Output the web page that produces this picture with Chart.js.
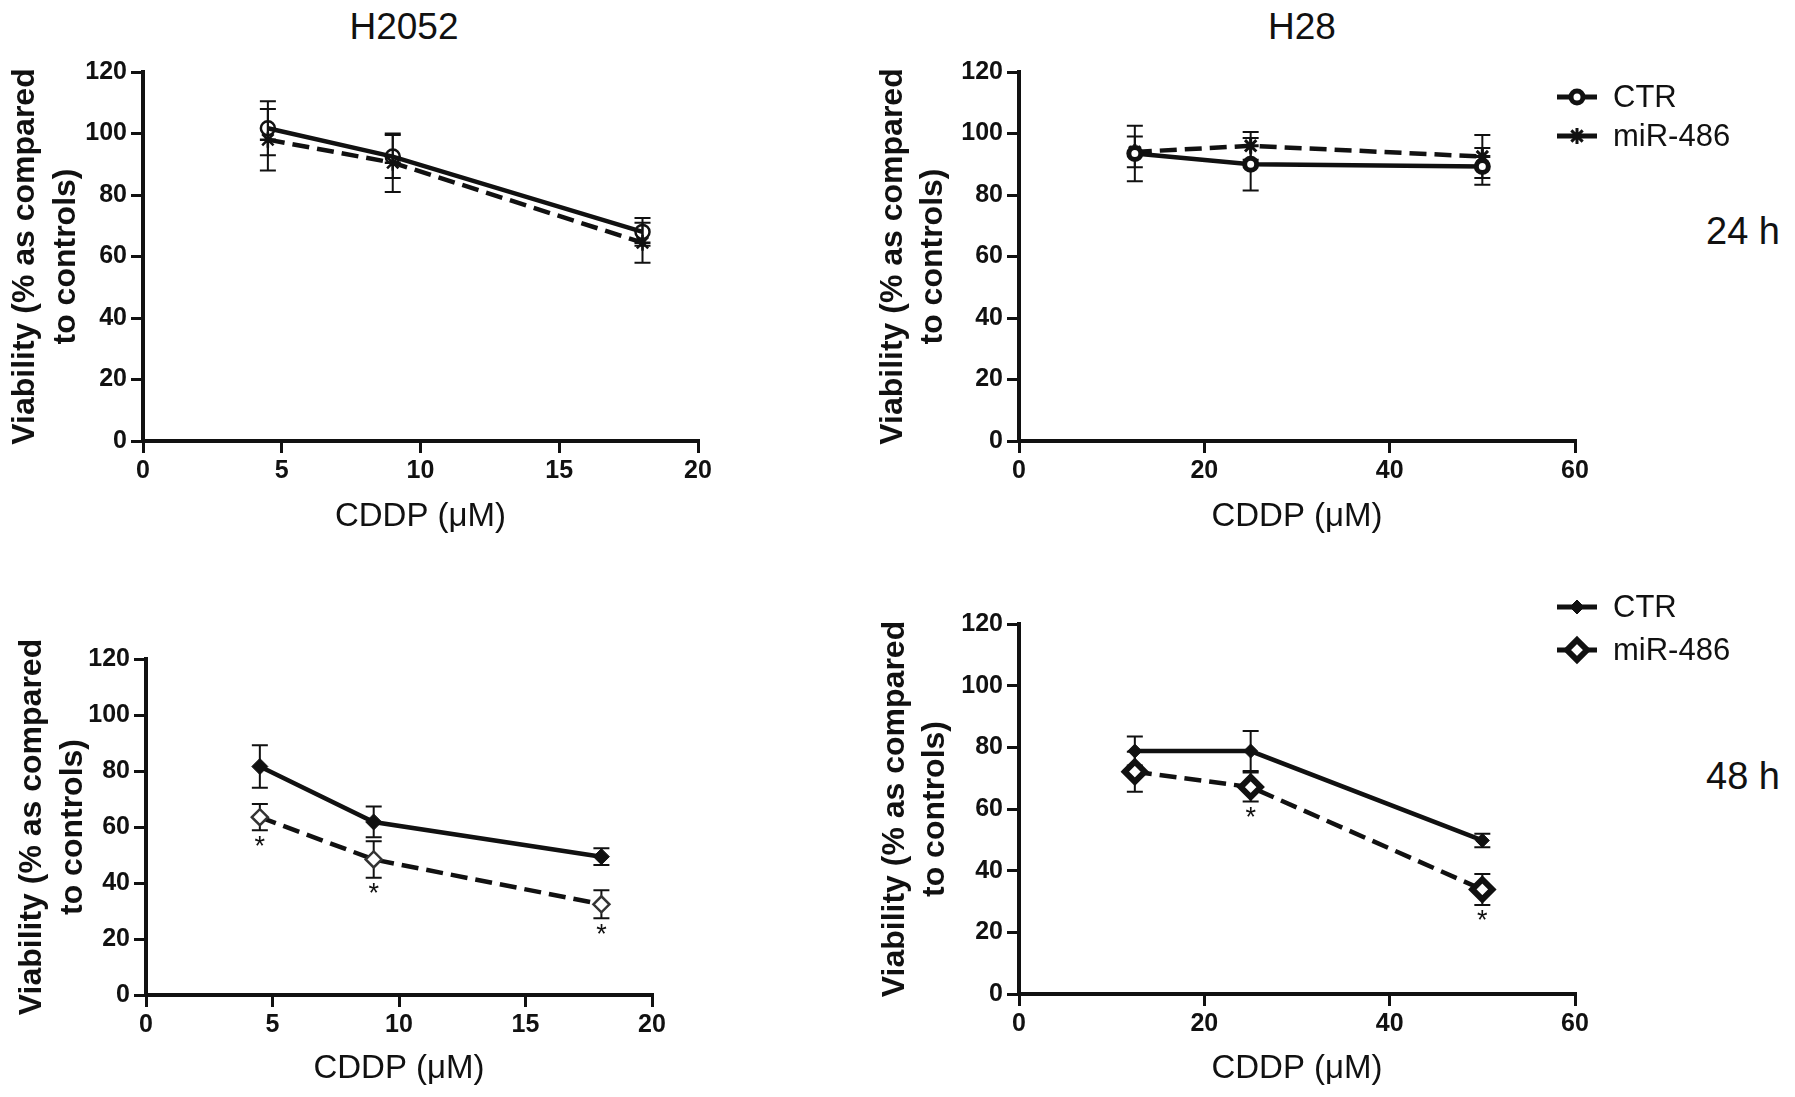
<!DOCTYPE html>
<html>
<head>
<meta charset="utf-8">
<script src="https://cdn.jsdelivr.net/npm/chart.js@4.4.0/dist/chart.umd.min.js"></script>
<style>
  body { margin: 0; background: #fff; width: 1795px; height: 1097px; position: relative; overflow: hidden;
         font-family: "Liberation Sans", Arial, sans-serif; color: #111; }
  canvas { position: absolute; }
  .title { position: absolute; white-space: nowrap; transform: translate(-50%, -50%); font-size: 37px; }
  .time { position: absolute; white-space: nowrap; transform: translateY(-50%); font-size: 38px; }
</style>
</head>
<body>
<div class="title" style="left:404px; top:27px;">H2052</div>
<div class="title" style="left:1302px; top:27px;">H28</div>
<div class="time" style="left:1706px; top:231px;">24 h</div>
<div class="time" style="left:1706px; top:776px;">48 h</div>

<canvas id="h2052_24"></canvas>
<canvas id="h28_24"></canvas>
<canvas id="h2052_48"></canvas>
<canvas id="h28_48"></canvas>

<script>
// axis ticks
const yTicks = [0, 20, 40, 60, 80, 100, 120];
const h2052Ticks = [0, 5, 10, 15, 20];
const h28Ticks = [0, 20, 40, 60];

// CDDP doses (uM)
const h2052Dose = [4.5, 9, 18];
const h28Dose = [12.5, 25, 50];

const seriesLabels = ["CTR", "miR-486"];

// 24 h, viability % (mean and error)
const h2052Ctr24 = [101.7, 92.5, 68.0];
const h2052Ctr24Err = [8.8, 7.0, 4.5];
const h2052Mir24 = [98.0, 90.5, 64.5];
const h2052Mir24Err = [10.0, 9.5, 6.5];

const h28Ctr24 = [93.5, 90.0, 89.3];
const h28Ctr24Err = [9.0, 8.5, 6.0];
const h28Mir24 = [94.0, 96.0, 92.5];
const h28Mir24Err = [5.0, 4.5, 7.0];

// 48 h
const h2052Ctr48 = [81.6, 61.8, 49.4];
const h2052Ctr48Err = [7.6, 5.5, 3.0];
const h2052Mir48 = [63.5, 48.4, 32.4];
const h2052Mir48Err = [4.7, 6.5, 5.0];
const h2052Sig48 = [true, true, true];

const h28Ctr48 = [78.8, 78.8, 49.8];
const h28Ctr48Err = [4.7, 6.5, 2.2];
const h28Mir48 = [72.1, 67.1, 33.9];
const h28Mir48Err = [6.5, 4.7, 5.0];
const h28Sig48 = [false, true, true];

const FONT = '"Liberation Sans", Arial, sans-serif';
Chart.defaults.font.family = FONT;
Chart.defaults.color = "#111";

const X_TITLE_SIZE = 33;
const Y_TITLE_SIZE = 32;

function drawMarker(ctx, ds, cx, cy) {
  const r = ds.pointRadius;
  ctx.save();
  ctx.setLineDash([]);
  ctx.lineWidth = ds.pointBorderWidth;
  ctx.strokeStyle = ds.pointBorderColor;
  ctx.fillStyle = ds.pointBackgroundColor;
  ctx.beginPath();
  if (ds.pointStyle === "circle") {
    ctx.arc(cx, cy, r, 0, Math.PI * 2);
    ctx.fill();
    ctx.stroke();
  } else if (ds.pointStyle === "rectRot") {
    ctx.moveTo(cx, cy - r);
    ctx.lineTo(cx + r, cy);
    ctx.lineTo(cx, cy + r);
    ctx.lineTo(cx - r, cy);
    ctx.closePath();
    ctx.fill();
    ctx.stroke();
  } else {
    const d = r * Math.SQRT1_2;
    ctx.moveTo(cx - r, cy); ctx.lineTo(cx + r, cy);
    ctx.moveTo(cx, cy - r); ctx.lineTo(cx, cy + r);
    ctx.moveTo(cx - d, cy - d); ctx.lineTo(cx + d, cy + d);
    ctx.moveTo(cx - d, cy + d); ctx.lineTo(cx + d, cy - d);
    ctx.stroke();
  }
  ctx.restore();
}

// error bars go under the markers and lines, asterisks on top
const errorBars = {
  id: "errorBars",
  beforeDatasetsDraw(chart) {
    const { ctx, scales: { x, y } } = chart;
    chart.data.datasets.forEach((ds) => {
      ctx.save();
      ctx.strokeStyle = "#111";
      ctx.lineWidth = 2;
      ds.data.forEach((p, j) => {
        const px = x.getPixelForValue(p.x);
        const top = y.getPixelForValue(p.y + ds.errors[j]);
        const bot = y.getPixelForValue(p.y - ds.errors[j]);
        ctx.beginPath();
        ctx.moveTo(px, top); ctx.lineTo(px, bot);
        ctx.moveTo(px - 8, top); ctx.lineTo(px + 8, top);
        ctx.moveTo(px - 8, bot); ctx.lineTo(px + 8, bot);
        ctx.stroke();
      });
      ctx.restore();
    });
  },
  afterDatasetsDraw(chart) {
    const { ctx, scales: { x, y } } = chart;
    chart.data.datasets.forEach((ds) => {
      if (!ds.sig) return;
      ctx.save();
      ctx.fillStyle = "#111";
      ctx.font = "27px " + FONT;
      ctx.textAlign = "center";
      ctx.textBaseline = "middle";
      ds.data.forEach((p, j) => {
        if (!ds.sig[j]) return;
        const bot = y.getPixelForValue(p.y - ds.errors[j]);
        ctx.fillText("*", x.getPixelForValue(p.x), bot + 17);
      });
      ctx.restore();
    });
  },
};

const sideLegend = {
  id: "sideLegend",
  afterDraw(chart, args, opts) {
    if (!opts.ys) return;
    const ctx = chart.ctx;
    chart.data.datasets.forEach((ds, i) => {
      const y = opts.ys[i];
      ctx.save();
      ctx.strokeStyle = "#111";
      ctx.lineWidth = 5;
      ctx.setLineDash([]);
      ctx.beginPath();
      ctx.moveTo(opts.x, y);
      ctx.lineTo(opts.x + 40, y);
      ctx.stroke();
      ctx.restore();
      drawMarker(ctx, ds, opts.x + 20, y);
      ctx.save();
      ctx.fillStyle = "#111";
      ctx.font = "31px " + FONT;
      ctx.textBaseline = "middle";
      ctx.fillText(ds.label, opts.x + 56, y + 1);
      ctx.restore();
    });
  },
};

function series(label, dose, values, errors, style, sig) {
  return Object.assign({
    label: label,
    data: dose.map((d, i) => ({ x: d, y: values[i] })),
    errors: errors,
    sig: sig,
    showLine: true,
    tension: 0,
    borderColor: "#111",
    borderWidth: 4.5,
    pointBorderColor: "#111",
  }, style);
}

function panel(id, box, area, xTicks, datasets, yTitle, legendYs) {
  const canvas = document.getElementById(id);
  canvas.width = box.w;
  canvas.height = box.h;
  canvas.style.left = box.left + "px";
  canvas.style.top = box.top + "px";

  const yWidth = area.l - box.left;
  const xHeight = box.top + box.h - area.b;
  const xLineH = X_TITLE_SIZE * 1.2;

  return new Chart(canvas, {
    type: "scatter",
    data: { datasets: datasets },
    plugins: [errorBars, sideLegend],
    options: {
      responsive: false,
      animation: false,
      devicePixelRatio: 1,
      layout: { padding: { left: 0, top: area.t - box.top, right: box.left + box.w - area.r, bottom: 0 } },
      plugins: {
        legend: { display: false },
        tooltip: { enabled: false },
        sideLegend: { x: 1557 - box.left, ys: legendYs },
      },
      scales: {
        x: {
          type: "linear",
          min: xTicks[0],
          max: xTicks[xTicks.length - 1],
          afterBuildTicks: (s) => { s.ticks = xTicks.map((v) => ({ value: v })); },
          afterFit: (s) => { s.height = xHeight; },
          ticks: { color: "#111", padding: 3, autoSkip: false, maxRotation: 0,
                   font: { size: 25, weight: "bold" } },
          grid: { drawOnChartArea: false, drawTicks: true, tickLength: 12, lineWidth: 3, color: "#111" },
          border: { display: true, width: 4, color: "#111" },
          title: { display: true, text: "CDDP (μM)", color: "#111", font: { size: X_TITLE_SIZE },
                   padding: { top: 0, bottom: box.top + box.h - yTitle.xMid - xLineH / 2 } },
        },
        y: {
          min: yTicks[0],
          max: yTicks[yTicks.length - 1],
          afterBuildTicks: (s) => { s.ticks = yTicks.map((v) => ({ value: v })); },
          afterFit: (s) => { s.width = yWidth; },
          ticks: { color: "#111", padding: 4, font: { size: 25, weight: "bold" } },
          grid: { drawOnChartArea: false, drawTicks: true, tickLength: 12, lineWidth: 3, color: "#111" },
          border: { display: true, width: 4, color: "#111" },
          title: { display: true, text: ["Viability (% as compared", "to controls)"], color: "#111",
                   font: { size: Y_TITLE_SIZE, weight: "bold", lineHeight: yTitle.lh / Y_TITLE_SIZE },
                   padding: { top: yTitle.x - box.left - yTitle.lh / 2, bottom: 0 } },
        },
      },
    },
  });
}

panel("h2052_24", { left: 0, top: 0, w: 740, h: 550 }, { l: 143, r: 698, t: 72, b: 441 }, h2052Ticks, [
  series(seriesLabels[0], h2052Dose, h2052Ctr24, h2052Ctr24Err,
    { pointStyle: "circle", pointRadius: 7, pointBorderWidth: 2.5, pointBackgroundColor: "rgba(0,0,0,0)" }),
  series(seriesLabels[1], h2052Dose, h2052Mir24, h2052Mir24Err,
    { pointStyle: "star", pointRadius: 8, pointBorderWidth: 2.5, pointBackgroundColor: "#111", borderDash: [17, 8] }),
], { x: 25, lh: 41, xMid: 517 }, null);

panel("h28_24", { left: 860, top: 0, w: 935, h: 550 }, { l: 1019, r: 1575, t: 72, b: 441 }, h28Ticks, [
  series(seriesLabels[0], h28Dose, h28Ctr24, h28Ctr24Err,
    { pointStyle: "circle", pointRadius: 6, pointBorderWidth: 5, pointBackgroundColor: "#fff" }),
  series(seriesLabels[1], h28Dose, h28Mir24, h28Mir24Err,
    { pointStyle: "star", pointRadius: 8, pointBorderWidth: 3, pointBackgroundColor: "#111", borderDash: [17, 8] }),
], { x: 893, lh: 40, xMid: 517 }, [97, 136]);

panel("h2052_48", { left: 0, top: 550, w: 740, h: 547 }, { l: 146, r: 652, t: 659, b: 995 }, h2052Ticks, [
  series(seriesLabels[0], h2052Dose, h2052Ctr48, h2052Ctr48Err,
    { pointStyle: "rectRot", pointRadius: 8, pointBorderWidth: 1, pointBackgroundColor: "#111" }),
  series(seriesLabels[1], h2052Dose, h2052Mir48, h2052Mir48Err,
    { pointStyle: "rectRot", pointRadius: 8, pointBorderWidth: 2.5, pointBackgroundColor: "#fff",
      pointBorderColor: "#333", borderDash: [17, 8] }, h2052Sig48),
], { x: 32, lh: 41, xMid: 1069 }, null);

panel("h28_48", { left: 860, top: 550, w: 935, h: 547 }, { l: 1019, r: 1575, t: 624, b: 994 }, h28Ticks, [
  series(seriesLabels[0], h28Dose, h28Ctr48, h28Ctr48Err,
    { pointStyle: "rectRot", pointRadius: 7, pointBorderWidth: 1, pointBackgroundColor: "#111" }),
  series(seriesLabels[1], h28Dose, h28Mir48, h28Mir48Err,
    { pointStyle: "rectRot", pointRadius: 10, pointBorderWidth: 6, pointBackgroundColor: "#fff", borderDash: [17, 8] },
    h28Sig48),
], { x: 895, lh: 40, xMid: 1069 }, [57, 100]);
</script>
</body>
</html>
